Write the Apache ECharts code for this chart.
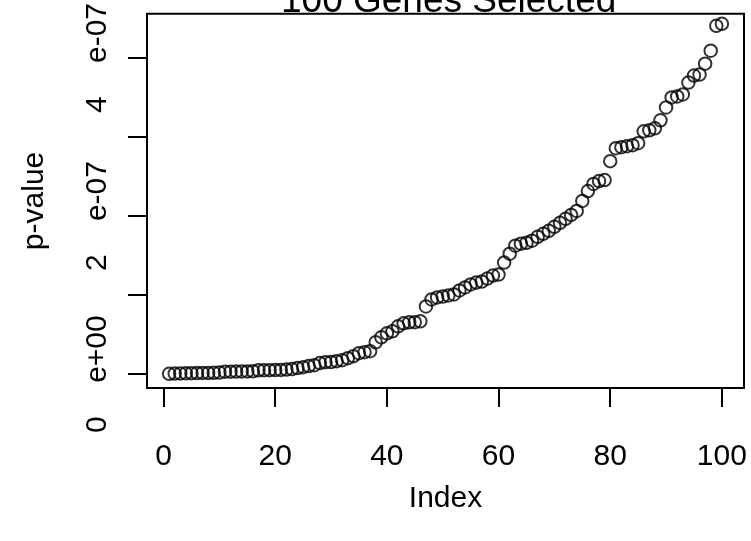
<!DOCTYPE html>
<html>
<head>
<meta charset="utf-8">
<script src="https://cdn.jsdelivr.net/npm/echarts@6/dist/echarts.min.js"></script>
<style>
html,body{margin:0;padding:0;background:#fff;}
#chart{width:751px;height:541px;}
</style>
</head>
<body>
<div id="chart"></div>
<script>
const titleText = "100 Genes Selected";
const xName = "Index";
const yName = "p-value";
const indexValues = [1,2,3,4,5,6,7,8,9,10,11,12,13,14,15,16,17,18,19,20,
  21,22,23,24,25,26,27,28,29,30,31,32,33,34,35,36,37,38,39,40,
  41,42,43,44,45,46,47,48,49,50,51,52,53,54,55,56,57,58,59,60,
  61,62,63,64,65,66,67,68,69,70,71,72,73,74,75,76,77,78,79,80,
  81,82,83,84,85,86,87,88,89,90,91,92,93,94,95,96,97,98,99,100];
const pValues = [
  0.004e-7,0.006e-7,0.008e-7,0.010e-7,0.012e-7,0.013e-7,0.014e-7,0.015e-7,0.016e-7,0.020e-7,
  0.030e-7,0.031e-7,0.032e-7,0.033e-7,0.034e-7,0.036e-7,0.048e-7,0.049e-7,0.050e-7,0.051e-7,
  0.052e-7,0.057e-7,0.063e-7,0.076e-7,0.088e-7,0.101e-7,0.113e-7,0.139e-7,0.151e-7,0.153e-7,
  0.164e-7,0.176e-7,0.202e-7,0.227e-7,0.264e-7,0.277e-7,0.290e-7,0.403e-7,0.466e-7,0.516e-7,
  0.542e-7,0.605e-7,0.642e-7,0.655e-7,0.657e-7,0.668e-7,0.856e-7,0.945e-7,0.970e-7,0.982e-7,
  0.995e-7,1.008e-7,1.058e-7,1.096e-7,1.134e-7,1.159e-7,1.171e-7,1.209e-7,1.247e-7,1.259e-7,
  1.411e-7,1.524e-7,1.625e-7,1.650e-7,1.662e-7,1.688e-7,1.738e-7,1.776e-7,1.814e-7,1.864e-7,
  1.914e-7,1.965e-7,2.015e-7,2.065e-7,2.191e-7,2.317e-7,2.406e-7,2.443e-7,2.456e-7,2.695e-7,
  2.859e-7,2.872e-7,2.884e-7,2.897e-7,2.922e-7,3.073e-7,3.086e-7,3.111e-7,3.212e-7,3.375e-7,
  3.501e-7,3.514e-7,3.539e-7,3.690e-7,3.778e-7,3.791e-7,3.929e-7,4.093e-7,4.408e-7,4.433e-7];
const xTicks = [0,20,40,60,80,100];
const yTicks = [0,1e-7,2e-7,3e-7,4e-7];
const yTickLabelValues = [0,2e-7,4e-7];
const yTickLabelTexts = ["0    e+00","2    e-07","4    e-07"];

const chart = echarts.init(document.getElementById('chart'), null, {renderer:'canvas'});
const font = 'Liberation Sans, Arial, Helvetica, sans-serif';
const data = indexValues.map((x,i)=>[x,pValues[i]]);
chart.setOption({
  animation:false,
  backgroundColor:'#ffffff',
  title:{
    text:titleText, left:276, top:-22,
    textStyle:{fontFamily:font,fontSize:37,fontWeight:'normal',color:'#000',lineHeight:37}
  },
  grid:{left:147,right:7,top:12,bottom:153,show:true,borderColor:'#000',borderWidth:2,backgroundColor:'transparent'},
  xAxis:{
    type:'value', min:-2.96, max:103.96,
    name:xName, nameLocation:'middle', nameGap:96,
    nameTextStyle:{fontFamily:font,fontSize:30,color:'#000',lineHeight:30},
    axisLine:{show:false,onZero:false},
    splitLine:{show:false},
    axisTick:{show:true,customValues:xTicks,length:19,inside:false,lineStyle:{color:'#000',width:2}},
    axisLabel:{customValues:xTicks,fontFamily:font,fontSize:30,color:'#000',margin:54,lineHeight:30}
  },
  yAxis:{
    type:'value', min:-0.176e-7, max:4.559e-7,
    name:yName, nameLocation:'middle', nameGap:97, nameRotate:90,
    nameTextStyle:{fontFamily:font,fontSize:30,color:'#000',lineHeight:30},
    axisLine:{show:false,onZero:false},
    splitLine:{show:false},
    axisTick:{show:true,customValues:yTicks,length:19,inside:false,lineStyle:{color:'#000',width:2}},
    axisLabel:{customValues:yTickLabelValues,rotate:90,fontFamily:font,fontSize:30,color:'#000',margin:34,lineHeight:30,
      formatter:function(v){
        for(let i=0;i<yTickLabelValues.length;i++){ if(Math.abs(v-yTickLabelValues[i])<1e-12) return yTickLabelTexts[i]; }
        return '';
      }}
  },
  series:[{
    type:'scatter',
    data:data,
    symbol:'circle',
    symbolSize:12.5,
    itemStyle:{color:'rgba(0,0,0,0)',borderColor:'#000',borderWidth:2},
    emphasis:{disabled:true}
  }]
});
</script>
</body>
</html>
